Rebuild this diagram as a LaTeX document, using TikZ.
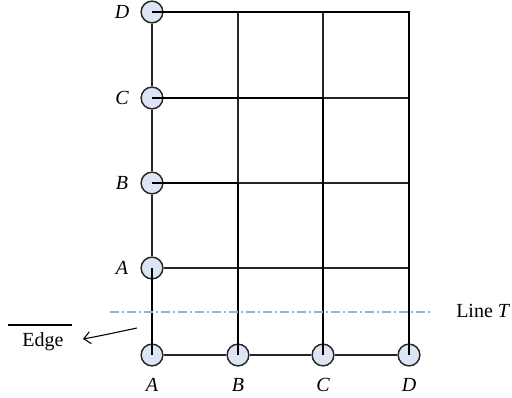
\documentclass[tikz,border=0pt]{standalone}
\usepackage{fontspec}
\setmainfont{Liberation Serif}
\usetikzlibrary{arrows.meta}
\definecolor{cfill}{HTML}{DDE4F3}
\definecolor{tline}{HTML}{8EB4DC}
\begin{document}
\begin{tikzpicture}[x=0.75pt,y=-0.75pt,
  every node/.style={font=\fontsize{15}{18}\selectfont},
  pt/.style={circle,draw=black!85,fill=cfill,line width=1.1pt,minimum size=16.3pt,inner sep=0pt},
  thinln/.style={line width=0.95pt,black!85},
  thickln/.style={line width=1.6pt,black},
  lbl/.style={font=\fontsize{15}{18}\selectfont\itshape}]
\useasboundingbox (0,0) rectangle (512,398);
% circles
\node[pt] (d1) at (152,12) {};
\node[pt] (c1) at (152,98) {};
\node[pt] (b1) at (152,183) {};
\node[pt] (a1) at (152,268) {};
\node[pt] (a0) at (152,355) {};
\node[pt] (b0) at (238,355) {};
\node[pt] (c0) at (323,355) {};
\node[pt] (d0) at (409,355) {};
% labels
\node[lbl] (ld1) at (122,12) {D};
\node[lbl] (lc1) at (122,98) {C};
\node[lbl] (lb1) at (122,183) {B};
\node[lbl] (la1) at (122,268) {A};
\node[lbl] (la0) at (152,385) {A};
\node[lbl] (lb0) at (238,385) {B};
\node[lbl] (lc0) at (323,385) {C};
\node[lbl] (ld0) at (409,385) {D};
% thin lines
\draw[thinln] (d1) -- (c1) -- (b1) -- (a1);
\draw[thinln] (a0) -- (b0) -- (c0) -- (d0);
\draw[thinln] (a1) -- (a1 -| d0.center);
\draw[thinln] (b1 -| b0.center) -- (b1 -| d0.center);
\draw[thinln] (c1 -| c0.center) -- (c1 -| d0.center);
\draw[thinln] (d1 -| b0.center) -- (b1 -| b0.center);
\draw[thinln] (d1 -| c0.center) -- (c1 -| c0.center);
% thick lines
\draw[thickln] (a1.center) -- (a0.center);
\draw[thickln] (b1.center) -| (b0.center);
\draw[thickln] (c1.center) -| (c0.center);
\draw[thickln] (d1.center) -| (d0.center);
% line T
\coordinate (t1) at (110,312);
\coordinate (t2) at (432,312);
\draw[tline,line width=1pt,dash pattern=on 6.75pt off 2.25pt on 1.5pt off 2.25pt] (t1) -- (t2);
\node[anchor=west,inner sep=0pt] (lt) at (456,311) {Line \textit{T}};
% edge
\node (edge) at (43,342) {Edge};
\coordinate (ov1) at (8,325);
\coordinate (ov2) at (72,325);
\draw[line width=0.8pt] (ov1) -- (ov2);
\coordinate (es) at (137,328);
\coordinate (ee) at (83,339);
\draw[line width=0.8pt,-{Straight Barb[length=5pt,width=9pt]}] (es) .. controls (118,332) and (100,336) .. (ee);
\end{tikzpicture}
\end{document}
